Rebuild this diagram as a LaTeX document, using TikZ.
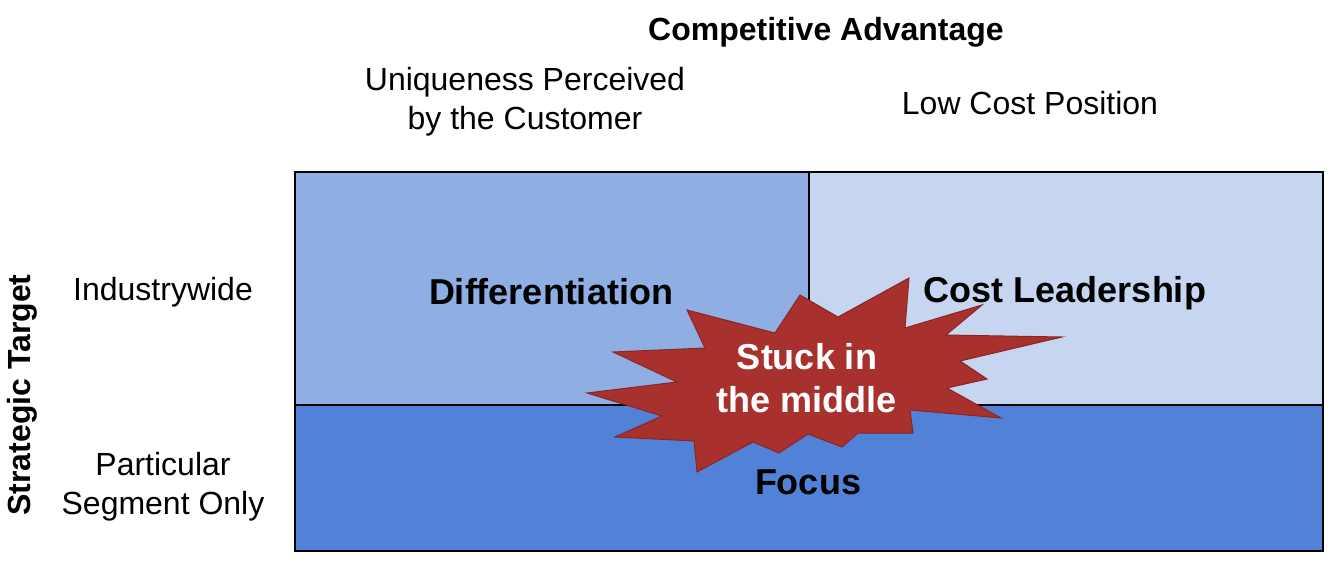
\documentclass[tikz,border=0pt]{standalone}
\usepackage{fontspec}
\setmainfont{Liberation Sans}
\usetikzlibrary{positioning,calc}

\definecolor{diffblue}{HTML}{8EAEE4}
\definecolor{costblue}{HTML}{C6D6F1}
\definecolor{focusblue}{HTML}{5282D7}
\definecolor{burstred}{HTML}{A8312E}
\definecolor{burstedge}{HTML}{8B2525}

\begin{document}
\begin{tikzpicture}[
		x=0.5pt, y=-0.5pt,
		head/.style={font=\fontsize{16}{19.5}\selectfont\bfseries, align=center},
		axis/.style={font=\fontsize{16}{19.5}\selectfont, align=center},
		cell/.style={font=\fontsize{18}{21.5}\selectfont\bfseries, align=center},
		grid/.style={draw=black, line width=0.8pt}
		]
		\useasboundingbox (0,0) rectangle (1334,568);
		
		% the three fields
		\fill[diffblue]  (295,172) rectangle (809,405);
		\fill[costblue]  (809,172) rectangle (1323,405);
		\fill[focusblue] (295,405) rectangle (1323,551);
		\draw[grid] (295,172) rectangle (1323,551);
		\draw[grid] (295,405) -- (1323,405);
		\draw[grid] (809,172) -- (809,405);
		
		% headings
		\node[head] (adv) at (826,32) {Competitive Advantage};
		\node[axis] (uniq) at (525,102) {Uniqueness Perceived\\by the Customer};
		\node[axis] (low) at (1030,103) {Low Cost Position};
		\node[axis] (wide) at (163,292) {Industrywide};
		\node[axis] (seg) at (163,487) {Particular\\Segment Only};
		\node[head, rotate=90] (target) at (22,395) {Strategic Target};
		
		\node[cell] (diff) at (551,292) {Differentiation};
		\node[cell] (cost) at (1065,293) {Cost Leadership};
		\node[cell] (focus) at (808,482) {Focus};
		
		% starburst
		\draw[fill=burstred, draw=burstedge, line width=0.5pt, line join=miter]
			(800,295) -- (838,317) -- (909,278) -- (905,328) -- (982,305)
			-- (946,335) -- (1062,337) -- (960,361) -- (987,379) -- (947,388)
			-- (1001,418) -- (910,410) -- (913,433) -- (858,433) -- (842,447)
			-- (808,434) -- (779,453) -- (753,442) -- (697,472) -- (694,441)
			-- (615,437) -- (662,416) -- (587,393) -- (677,382) -- (613,352)
			-- (705,348) -- (687,310) -- (775,333) -- cycle;
		\node[cell, text=white] (stuck) at (807,378) {Stuck in\\the middle};
	\end{tikzpicture}
\end{document}
